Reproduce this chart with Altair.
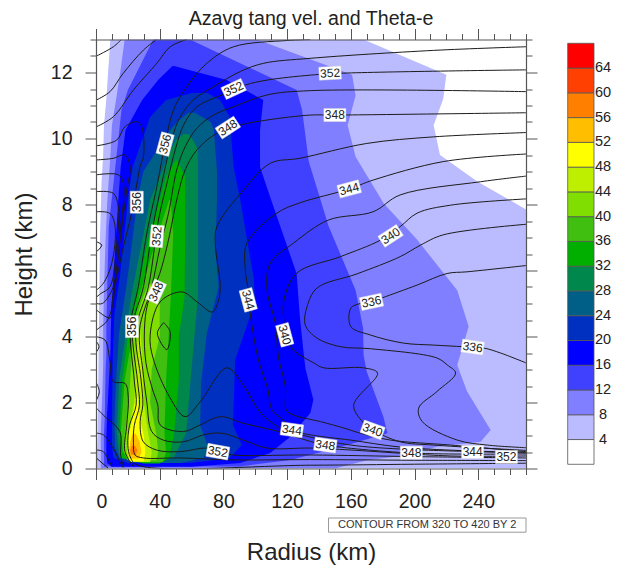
import altair as alt
import pandas as pd

FONT = "Liberation Sans"
X_TICKS = list(range(0, 271, 10))
Y_TICKS = [i * 0.5 for i in range(0, 27)]
BAR_LEVELS = [4, 8, 12, 16, 20, 24, 28, 32, 36, 40, 44, 48, 52, 56, 60, 64]
BAR_EDGES = [0] + BAR_LEVELS + [68]
BAR_COLORS = ["#FFFFFF", "#BBBBFF", "#7F7FFF", "#4040FF", "#0000FF", "#0030C0", "#005F87",
              "#00874B", "#00AF00", "#40BF10", "#80DF00", "#BFEF00", "#FFFF00", "#FFBF00",
              "#FF8000", "#FF4000", "#FF0000"]

# filled regions: height, left radius, right radius
H04 = [0, .3, 1, 3, 5, 7, 7.85, 8.7, 9.5, 10.4, 11.2, 11.93, 13]
L04 = [.5, .5, 1, 1.5, 2, 2.5, 3, 3.5, 4.5, 5, 6.5, 7.5, 9]
R04 = [270, 270, 270, 270, 270, 270, 270, 239.4, 216, 212, 218, 220, 168]
H08 = [0, .25, .4, .66, .81, 1.17, 2.33, 3.14, 4.3, 5.4, 6.93, 8.03, 9.45, 10.4, 11.3, 11.93, 13]
L08 = [3, 3, 3, 3, 3, 3, 4, 4.5, 4.5, 5, 6, 7, 9, 10, 13, 15, 18]
R08 = [150, 170, 195, 214, 241.5, 247.8, 233, 226.8, 234, 226.8, 201.7, 180.7, 163, 158, 163, 160.8, 101]
H12 = [.06, .26, .65, 1.07, 1.56, 2.93, 3.44, 4.25, 5.4, 7.35, 9.3, 10.86, 11.47, 13]
L12 = [5, 5, 5, 5, 5.5, 6, 6.5, 6.5, 7, 8, 12.5, 16, 20, 36]
R12 = [90, 122, 153.5, 183, 180.5, 170, 168, 167.7, 163, 146, 133.6, 129.4, 126, 59]
H16 = [.05, .17, .47, .96, 1.68, 2.08, 3.03, 3.44, 4.6, 5.9, 8.14, 9.14, 10.25, 11.17, 11.77, 12.2]
L16 = [10, 7, 6.5, 6.5, 7, 7.5, 8.5, 9, 9.5, 11, 14, 15.5, 18.5, 29, 39, 48]
R16 = [60, 90.6, 109.4, 122, 134.6, 136.5, 131.5, 130.5, 128, 126, 110, 103, 103, 105, 82, 49]
H20 = [.17, .32, .71, 1.32, 3.29, 4.65, 5, 5.8, 8.14, 9.14, 10.65, 11.17, 11.38]
L20 = [20, 11, 10, 10, 10.5, 11.5, 12.5, 15, 20, 23, 34, 44, 60]
R20 = [60, 84, 91.6, 86, 87.4, 97, 100, 98.9, 90.6, 86.4, 84, 78, 70]
H24 = [.17, .32, .62, 1.3, 2.6, 4.1, 5.5, 6.6, 8.14, 9, 10.25, 10.5, 10.78]
L24 = [30, 15, 12, 11.5, 12.5, 14.5, 19, 22, 26, 29.7, 46.5, 51, 58]
R24 = [53, 67.4, 70.6, 65.4, 66, 69.6, 77, 75, 76, 76, 74, 72, 62]
H28 = [.25, .32, 1.07, 2.68, 5.2, 8.14, 9.65, 9.95, 10.14]
L28 = [30, 15, 13, 14.5, 22, 34, 47, 50, 55]
R28 = [35, 48.6, 56.6, 59.4, 64, 64, 64, 61, 58]
H32 = [.15, .32, 1.07, 2.68, 4, 5.2, 7, 8.84, 9.33]
L32 = [30, 16, 14.5, 16.5, 20, 25, 33, 44, 50]
R32 = [40, 46, 49, 52, 52, 55.6, 56, 56, 51]
H36 = [.2, .5, 1.07, 2.68, 5.2, 7.13, 8.14]
L36 = [24, 17, 15.5, 18, 27, 39, 46]
R36 = [42, 44, 43, 44, 47, 48.5, 47]
H40 = [.25, .5, 1, 2, 3, 4, 5, 5.6]
L40 = [20, 17.5, 18, 20.5, 22, 23, 28, 33]
R40 = [38, 39, 38, 34, 35, 40, 40, 36]
H44 = [.2, .5, 1, 2, 3.5, 4.3]
L44 = [22, 19.5, 19.5, 24, 25.5, 27]
R44 = [34, 35, 33, 30, 29, 27.5]
H48 = [.22, .5, 1, 1.5, 2.2]
L48 = [21, 20, 20.5, 23, 25]
R48 = [30, 31, 30, 27.5, 26]
H52 = [.3, .5, .8, 1.05]
L52 = [21, 20.5, 21.5, 23]
R52 = [27, 28.5, 27.5, 25]
H56 = [.42, .55, .7]
L56 = [22, 21.5, 22.5]
R56 = [25, 26, 24.5]
FILLS = [(H04, L04, R04), (H08, L08, R08), (H12, L12, R12), (H16, L16, R16), (H20, L20, R20),
         (H24, L24, R24), (H28, L28, R28), (H32, L32, R32), (H36, L36, R36), (H40, L40, R40),
         (H44, L44, R44), (H48, L48, R48), (H52, L52, R52), (H56, L56, R56)]

# contour lines: (radius, height)
C336 = [(270, 6.15), (233, 5.96), (220.5, 5.91), (201.7, 5.56), (179.7, 5.17), (173, 5.05), (166, 5), (160, 4.86),
        (160, 4.3), (172, 4.05), (193, 3.8), (212, 3.74), (230.8, 3.69), (243.5, 3.65), (254, 3.5), (270, 3.2)]
C338 = [(270, 7.4), (218, 7.08), (203.8, 6.77), (191, 6.42), (164, 5.9), (138.8, 5.47), (132.5, 4.9), (131.4, 4.35),
        (138.8, 3.95), (153.5, 3.69), (172.3, 3.63), (214, 3.35), (220.5, 3.14), (225.8, 2.89), (214, 2.33),
        (202.6, 1.83), (204.9, 1.42), (226.9, .86), (245.7, .71), (270, .63)]
C340 = [(270, 8.17), (222.7, 7.98), (201.7, 7.74), (191, 7.33), (178.6, 6.92), (153.5, 6.42), (126, 5.92), (118, 5.1),
        (118, 4.4), (118.5, 4.05), (124, 3.59), (136.7, 3.2), (143, 3.05), (168, 3.05), (176.8, 2.89), (161.8, 1.92),
        (167.5, 1.41), (173.8, 1.17), (191, .81), (212, .71), (270, .55)]
C342 = [(270, 8.86), (241.5, 8.69), (191, 8.29), (174, 7.78), (146, 7.53), (124, 6.83), (109.4, 6.22), (107.4, 5.41),
        (112.6, 4.4), (114.5, 3.39), (118.9, 2.48), (119.5, 1.77), (124, 1.62), (141, 1.42), (155.4, 1.23), (166, 1.07),
        (185, .86), (222.7, .71), (270, .51)]
C344 = [(270, 9.53), (218, 9.3), (174, 8.74), (159, 8.47), (128, 8.05), (113.6, 7.74), (94.8, 6.83), (93.7, 6.02),
        (95.6, 5.41), (96.2, 4.95), (98.7, 4.1), (102, 3.29), (108, 2.38), (110.5, 1.77), (117.6, 1.47), (122.6, 1.17),
        (134.6, 1.02), (160, .86), (191, .65), (236.5, .53), (270, .49)]
C346 = [(270, 10.18), (212, 10.05), (170, 9.85), (128, 9.4), (109.5, 9.25), (92.7, 8.44), (75.9, 7.33), (74.9, 6.82),
        (78, 5.51), (76.7, 5.05), (73, 4.74), (63.5, 5.05), (54, 5.35), (40.3, 5.05), (34, 4.05), (35.8, 3.35),
        (46.5, 2.14), (56, 1.57), (65.4, 2.02), (82.2, 3.05), (92.5, 2.53), (103, 1.71), (115.7, 1.23), (134.6, .95),
        (160, .71), (191, .59), (270, .47)]
C348 = [(270, 10.78), (150, 10.71), (134.6, 10.71), (107.4, 10.56), (90.6, 10.41), (75.9, 10.16), (63.3, 9.65), (56, 9.05),
        (50.7, 8.14), (45.5, 6.92), (40, 5.9), (32.5, 5), (30.4, 4.2), (31.4, 3.19), (35.6, 2.38), (38.8, 1.92),
        (40.3, 1.32), (55, 1.12), (65.4, 1.32), (78, 1.57), (92.6, 1.37), (114.7, 1.12), (134.6, .82), (144, .71),
        (197.5, .47), (270, .44)]
C350 = [(270, 11.42), (134.6, 11.45), (107.4, 11.32), (86.4, 10.96), (73.8, 10.71), (63.3, 10.31), (56, 9.75), (50.7, 9.05),
        (45.5, 7.73), (40.3, 6.72), (35, 5.51), (27.3, 4.2), (29.4, 2.98), (31.9, 2.02), (35, 1.12), (42.3, .86),
        (55, .81), (67.5, 1.02), (79, 1.07), (92.6, .86), (107.4, .62), (134.6, .62), (160, .56), (222.7, .38), (270, .38)]
C352 = [(270, 12.08), (155.3, 11.98), (134.6, 11.92), (107.4, 11.77), (93.7, 11.62), (79, 11.32), (63.3, 10.96), (55, 10.41),
        (49.7, 9.65), (44.5, 8.64), (39.2, 7.53), (32.9, 5.51), (25, 4.2), (28.3, 2.68), (29.4, 1.92), (27.7, 1.42),
        (29.7, .81), (38, .56), (52.8, .51), (69.6, .62), (76.7, .5), (86, .41), (134.6, .41), (200, .36), (270, .32)]
C354 = [(270, 12.78), (212, 12.67), (134.6, 12.43), (105.3, 12.28), (90.6, 12.03), (73.8, 11.57), (61.2, 11.17), (51.8, 10.56),
        (46.6, 9.75), (41.3, 8.64), (35, 7.13), (29.8, 5.51), (23, 4.3), (26, 2.68), (27.3, 1.92), (24, 1.3),
        (23.5, .8), (24.5, .41), (29.7, .32), (52.8, .32), (86, .26), (134.6, .27), (200, .25), (270, .24)]
C356 = [(134.6, 13), (120, 12.97), (86.4, 12.78), (69.6, 12.28), (57, 11.57), (48.6, 10.86), (43.4, 9.85), (38.2, 8.54),
        (31.9, 7.13), (26.6, 5.51), (21.5, 4.3), (24, 2.68), (25.2, 1.92), (21, 1.3), (20, .7), (21.5, .35),
        (25.7, .11), (134.6, .1), (200, .13), (270, .16)]
CA = [(.4, 12.5), (10.9, 12.78), (16, 13)]
CB = [(.4, 11.17), (8.8, 11.42), (17, 11.97), (29.8, 12.68), (38, 13)]
CC = [(.4, 10.36), (10.9, 10.66), (23.5, 11.47), (38.2, 12.28), (46.6, 12.78), (57, 13)]
CD = [(.4, 9.78), (13, 9.95), (18.2, 10.36), (25.6, 10.51), (28.7, 10.36), (29.8, 9.45), (27.7, 9.15), (22.4, 7.73),
      (18.2, 6.92), (12, 5.51), (10.5, 4.95), (6.7, 4.45), (3, 4.3), (.4, 4.2)]
CE = [(.4, 9.35), (10.9, 9.4), (18.2, 9.5), (21.4, 9.15), (19.3, 8.44), (13, 6.12), (10, 5), (8.9, 4.56), (.4, 4.8)]
CF = [(.4, 8.9), (14, 8.9), (17.2, 8.64), (15.1, 7.13), (10.9, 5.51), (4, 5), (.4, 5)]
CG = [(.4, 8.39), (10.9, 8.34), (14, 7.93), (13, 6.82), (8.8, 5.51), (3, 5.3), (.4, 5.2)]
CH = [(.4, 7.78), (8.8, 7.73), (12, 7.33), (9.9, 6.22), (4.6, 5.61), (.4, 5.41)]
CI = [(.4, 6.87), (3.6, 6.77), (.4, 6.57)]
CJ = [(.4, 3.84), (1.9, 3.69), (.4, 3.54)]
CK = [(.4, 2.58), (2.1, 2.33), (.4, 2.08)]
CL = [(42.5, 4.42), (46.5, 4.15), (44.5, 3.6), (38.5, 4.1), (42.5, 4.42)]
CP = [(.4, 3.99), (5.7, 3.89), (8.8, 3.24), (10.9, 2.63), (18.2, 2.58), (20.3, 2.13), (19.3, 1.32), (18.2, .51), (23.5, .06)]
CQ = [(.4, 1.82), (6.7, 1.52), (15, 1.12), (15.5, .41), (17, .11)]
CR = [(.4, 1.07), (4.6, 1.02), (10.9, .61), (15, .2), (17, .03)]
CS = [(.4, .56), (4.6, .51), (9.9, .06)]
CT = [(.4, .31), (7.6, .01)]
CONTOURS = [C336, C338, C340, C342, C344, C346, C348, C350, C352, C354, C356, CA, CB, CC, CD, CE, CF, CG, CH, CI, CJ, CK, CL,
            CP, CQ, CR, CS, CT]

# contour labels
LABEL_TEXT = ["352", "348", "344", "340", "336", "336", "340", "344", "348", "348", "344", "352", "352", "352", "348",
              "356", "356", "352", "348", "356", "344", "340"]
LABEL_R = [147, 150, 159, 185, 173, 236.5, 173.7, 123, 144, 198, 236.5, 257.7, 76.5, 86.4, 82.8, 43.4, 25.6, 38.2, 37.7, 22.6, 95.6, 118.5]
LABEL_H = [11.98, 10.71, 8.47, 7.05, 5.05, 3.68, 1.17, 1.17, .71, .48, .5, .35, .51, 11.5, 10.33, 9.83, 8.07, 7.04, 5.36, 4.3, 5.11, 4.05]
LABEL_ANGLE = [357, 0, 345, 327, 348, 8, 20, 8, 8, 0, 0, 0, 10, 335, 327, 285, 270, 275, 295, 270, 75, 75]

NOTE = "CONTOUR FROM 320 TO 420 BY 2"
NOTE_R, NOTE_R2, NOTE_H, NOTE_H2 = 146, 270, -1.50, -1.93

x_scale = alt.Scale(domain=[0, 270], nice=False, zero=False)
y_scale = alt.Scale(domain=[0, 13], nice=False, zero=False)
W, H = 430, 429
AXC = "#555555"


def axis_common(labels, test):
    d = dict(
        grid=False, domainColor=AXC, domainWidth=1.2, tickColor=AXC, tickWidth=1,
        labels=labels,
        tickSize={"condition": {"test": test, "value": 11}, "value": 6},
        zindex=1,
    )
    if labels:
        d.update(labelExpr=f"{test} ? format(datum.value, 'd') : ''", labelFont=FONT, labelFontSize=19.5,
                 labelColor="#222222")
    return d


xt = "datum.value % 40 == 0"
yt = "datum.value % 2 == 0"
x_bottom = alt.Axis(orient="bottom", values=X_TICKS, title="Radius (km)", titleFont=FONT, titleFontSize=24,
                    titleFontWeight="normal", titleColor="#222222", titleY=91, titleBaseline="alphabetic",
                    labelPadding=13, labelAngle=0, **axis_common(True, xt))
x_top = alt.Axis(orient="top", values=X_TICKS, title=None, **axis_common(False, xt))
y_left = alt.Axis(orient="left", values=Y_TICKS, title="Height (km)", titleFont=FONT, titleFontSize=24,
                  titleFontWeight="normal", titleColor="#222222", titleX=-65, titleBaseline="alphabetic", labelPadding=13,
                  **axis_common(True, yt))
y_right = alt.Axis(orient="right", values=Y_TICKS, title=None, **axis_common(False, yt))

layers = []
for (hs, ls, rs), color in zip(FILLS, BAR_COLORS[1:]):
    d = pd.DataFrame({"h": hs, "l": ls, "r": rs})
    layers.append(
        alt.Chart(d).mark_area(orient="horizontal", color=color, clip=True, interpolate="linear").encode(
            y=alt.Y("h:Q", scale=y_scale, axis=None),
            x=alt.X("l:Q", scale=x_scale, axis=None),
            x2="r:Q",
        )
    )

rows = []
for i, line in enumerate(CONTOURS):
    for j, (r, h) in enumerate(line):
        rows.append({"line": i, "k": j, "r": r, "h": h})
layers.append(
    alt.Chart(pd.DataFrame(rows)).mark_line(color="#1c1c1c", strokeWidth=1, clip=True, interpolate="catmull-rom").encode(
        x=alt.X("r:Q", scale=x_scale, axis=None),
        y=alt.Y("h:Q", scale=y_scale, axis=None),
        detail="line:N",
        order="k:Q",
    )
)

lab = pd.DataFrame({"t": LABEL_TEXT, "r": LABEL_R, "h": LABEL_H, "a": LABEL_ANGLE})
layers.append(
    alt.Chart(lab).mark_point(shape="M-1,-0.59H1V0.59H-1Z", filled=True, fill="white", stroke="#dddddd", strokeWidth=.5,
                              opacity=1, size=484).encode(
        x=alt.X("r:Q", scale=x_scale, axis=None),
        y=alt.Y("h:Q", scale=y_scale, axis=None),
        angle=alt.Angle("a:Q", scale=None),
    )
)
layers.append(
    alt.Chart(lab).mark_text(font=FONT, fontSize=12, color="#222222").encode(
        x=alt.X("r:Q", scale=x_scale, axis=None),
        y=alt.Y("h:Q", scale=y_scale, axis=None),
        text="t:N",
        angle=alt.Angle("a:Q", scale=None),
    )
)

note_df = pd.DataFrame({"r": [NOTE_R], "r2": [NOTE_R2], "h": [NOTE_H], "h2": [NOTE_H2], "t": [NOTE],
                        "c": [(NOTE_R + NOTE_R2) / 2], "m": [(NOTE_H + NOTE_H2) / 2]})
layers.append(
    alt.Chart(note_df).mark_rect(fill="white", stroke="#999999", strokeWidth=1, clip=False).encode(
        x=alt.X("r:Q", scale=x_scale, axis=None), x2="r2:Q",
        y=alt.Y("h:Q", scale=y_scale, axis=None), y2="h2:Q",
    )
)
layers.append(
    alt.Chart(note_df).mark_text(font=FONT, fontSize=11, color="#333333", clip=False).encode(
        x=alt.X("c:Q", scale=x_scale, axis=None),
        y=alt.Y("m:Q", scale=y_scale, axis=None),
        text="t:N",
    )
)

dummy = pd.DataFrame({"r": [0], "h": [0]})
layers.append(
    alt.Chart(dummy).mark_point(opacity=0).encode(
        x=alt.X("r:Q", scale=x_scale, axis=x_bottom), y=alt.Y("h:Q", scale=y_scale, axis=y_left))
)
layers.append(
    alt.Chart(dummy).mark_point(opacity=0).encode(
        x=alt.X("r:Q", scale=x_scale, axis=x_top), y=alt.Y("h:Q", scale=y_scale, axis=y_right))
)

# colour bar, on a scale of its own to the right of the plot
bar_x = alt.Scale(domain=[0, 1], range=[471.7, 498], zero=False, nice=False)
bar_y = alt.Scale(domain=[0, 68], range=[424.8, 3.8], zero=False, nice=False)
bar_df = pd.DataFrame({"lo": BAR_EDGES[:-1], "hi": BAR_EDGES[1:], "c": BAR_COLORS, "x0": 0, "x1": 1})
layers.append(
    alt.Chart(bar_df).mark_rect(stroke="#555555", strokeWidth=.8, clip=False).encode(
        x=alt.X("x0:Q", scale=bar_x, axis=None), x2="x1:Q",
        y=alt.Y("lo:Q", scale=bar_y, axis=None), y2="hi:Q",
        color=alt.Color("c:N", scale=None),
    )
)
bar_labels = pd.DataFrame({"v": BAR_LEVELS, "t": [str(v) for v in BAR_LEVELS], "x": 1.34})
layers.append(
    alt.Chart(bar_labels).mark_text(font=FONT, fontSize=14.5, color="#222222", clip=False).encode(
        x=alt.X("x:Q", scale=bar_x, axis=None),
        y=alt.Y("v:Q", scale=bar_y, axis=None),
        text="t:N",
    )
)

chart = alt.layer(*layers).resolve_scale(x="independent", y="independent").properties(
    width=W, height=H,
    autosize=alt.AutoSizeParams(type="none"),
    padding={"left": 88, "top": 31.5, "right": 85, "bottom": 96},
    title=alt.TitleParams("Azavg tang vel. and Theta-e", font=FONT, fontSize=19.6, fontWeight="normal",
                          color="#222222", anchor="middle", offset=-2),
).configure_view(stroke=None)

chart.save("out.html", embed_options={"renderer": "svg", "actions": False})
